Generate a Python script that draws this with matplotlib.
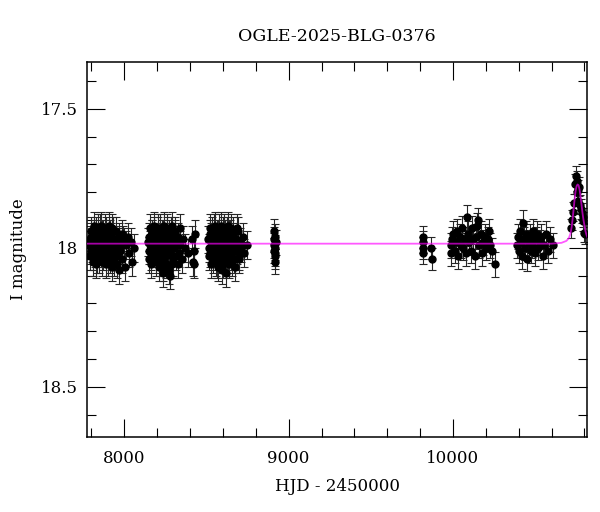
import numpy as np
import matplotlib.pyplot as plt
from matplotlib.ticker import MultipleLocator, FormatStrFormatter

plt.rcParams['font.family'] = ['DejaVu Serif']

s1_t = [7788, 7792, 7795, 7799, 7803, 7806, 7810, 7813, 7817, 7820,
        7824, 7827, 7831, 7835, 7838, 7842, 7845, 7849, 7852, 7856,
        7860, 7863, 7867, 7870, 7874, 7878, 7881, 7885, 7888, 7892,
        7896, 7899, 7903, 7907, 7910, 7914, 7918, 7921, 7925, 7929,
        7933, 7937, 7941, 7945, 7950, 7955, 7960, 7966, 7972, 7978,
        7985, 7992, 7999, 8006, 8013, 8021, 8030, 8040, 8050, 8062,
        7790, 7797, 7801, 7808, 7815, 7822, 7829, 7833, 7840, 7847,
        7854, 7858, 7865, 7872, 7876, 7883, 7890, 7894, 7901, 7905,
        7912, 7916, 7923, 7927, 7931, 7939, 7947, 7958, 7969, 7988]
s1_m = [17.99, 17.97, 18.01, 17.96, 18.00, 17.98, 18.03, 17.95, 17.99, 18.02,
        17.97, 17.94, 18.00, 18.04, 17.98, 17.96, 18.01, 17.99, 17.93, 18.02,
        17.97, 18.00, 17.95, 18.03, 17.98, 17.96, 18.01, 17.99, 17.94, 18.02,
        17.98, 18.05, 17.97, 17.95, 18.00, 17.99, 18.03, 17.96, 17.98, 18.01,
        17.94, 17.99, 18.02, 17.97, 18.00, 18.06, 17.98, 17.96, 18.01, 17.99,
        18.04, 17.97, 17.98, 18.07, 17.99, 17.96, 18.02, 17.98, 18.05, 18.00,
        18.03, 17.94, 17.98, 18.05, 17.92, 18.00, 18.06, 17.96, 17.93, 18.04,
        17.98, 17.92, 18.05, 17.95, 18.02, 17.93, 18.06, 17.97, 18.01, 17.92,
        18.04, 17.95, 18.07, 17.93, 18.00, 18.05, 17.94, 18.03, 18.08, 17.95]

s2_t = [8146, 8150, 8153, 8157, 8160, 8164, 8167, 8171, 8174, 8178,
        8181, 8185, 8188, 8192, 8195, 8199, 8202, 8206, 8209, 8213,
        8216, 8220, 8224, 8227, 8231, 8235, 8238, 8242, 8246, 8250,
        8254, 8258, 8262, 8266, 8270, 8275, 8280, 8285, 8290, 8296,
        8302, 8308, 8314, 8320, 8327, 8334, 8342, 8350, 8360, 8372,
        8385, 8410, 8418, 8424, 8430,
        8148, 8155, 8162, 8169, 8176, 8183, 8190, 8197, 8204, 8211,
        8218, 8222, 8229, 8233, 8240, 8244, 8248, 8256, 8260, 8268,
        8272, 8278, 8283, 8288, 8293, 8299, 8311, 8324, 8338, 8425]
s2_m = [17.98, 18.01, 17.96, 17.99, 18.03, 17.97, 17.95, 18.00, 18.02, 17.98,
        17.94, 18.01, 17.99, 18.04, 17.96, 17.98, 18.02, 17.93, 18.00, 17.97,
        18.05, 17.99, 17.96, 18.01, 17.98, 18.07, 17.95, 18.00, 18.03, 17.97,
        17.99, 17.94, 18.02, 17.98, 18.08, 17.96, 18.01, 17.99, 18.06, 17.97,
        18.00, 17.95, 18.03, 17.98, 17.96, 18.02, 17.99, 18.04, 17.97, 18.00,
        18.02, 17.97, 18.05, 18.01, 17.95,
        18.04, 17.93, 18.06, 17.95, 18.02, 17.92, 18.05, 18.00, 17.94, 18.07,
        17.93, 18.03, 17.95, 18.09, 17.92, 18.04, 17.96, 18.06, 17.93, 18.02,
        17.95, 18.10, 17.94, 18.03, 17.92, 18.05, 17.94, 18.06, 17.93, 18.06]

s3_t = [8512, 8516, 8519, 8523, 8526, 8530, 8533, 8537, 8540, 8544,
        8547, 8551, 8554, 8558, 8561, 8565, 8568, 8572, 8575, 8579,
        8582, 8586, 8589, 8593, 8597, 8601, 8605, 8609, 8613, 8617,
        8621, 8625, 8629, 8634, 8639, 8644, 8649, 8654, 8660, 8666,
        8672, 8678, 8684, 8690, 8697, 8704, 8711, 8720, 8730, 8745,
        8514, 8521, 8528, 8535, 8542, 8549, 8556, 8563, 8570, 8577,
        8584, 8591, 8595, 8603, 8607, 8611, 8615, 8619, 8623, 8627,
        8631, 8637, 8642, 8647, 8652, 8657, 8663, 8675, 8687, 8700]
s3_m = [17.97, 18.00, 17.95, 18.02, 17.98, 17.96, 18.01, 17.99, 18.04, 17.97,
        17.93, 18.00, 17.98, 18.03, 17.96, 18.06, 17.99, 17.95, 18.01, 17.98,
        18.02, 17.96, 17.99, 18.08, 17.97, 17.94, 18.00, 18.03, 17.98, 17.96,
        18.01, 17.99, 18.05, 17.97, 17.95, 18.02, 17.98, 18.00, 17.96, 18.04,
        17.99, 17.97, 18.01, 17.94, 18.03, 17.98, 18.00, 17.96, 18.02, 17.99,
        18.03, 17.93, 18.06, 17.94, 18.01, 17.92, 18.05, 17.95, 18.07, 17.93,
        18.04, 17.92, 17.96, 18.06, 17.93, 18.02, 17.95, 18.09, 17.94, 18.04,
        17.92, 18.06, 17.95, 18.03, 17.93, 18.05, 17.94, 18.07, 17.93, 18.04]

s4_t = [8908, 8910, 8912, 8914, 8915, 8917, 8919, 8921, 8913, 8918]
s4_m = [17.97, 18.01, 17.99, 18.03, 17.96, 18.00, 18.02, 17.98, 17.94, 18.05]

s5_t = [9815, 9817, 9818, 9820, 9868, 9872]
s5_m = [17.96, 17.98, 18.00, 18.02, 18.00, 18.04]

s6_t = [9985, 9990, 9996, 10003, 10010, 10018, 10025, 10032, 10040, 10047,
        10055, 10062, 10070, 10078, 10085, 10092, 10100, 10108, 10116, 10124,
        10132, 10140, 10148, 10152, 10160, 10168, 10176, 10184, 10192, 10200,
        10210, 10220, 10228, 10240, 10256]
s6_m = [17.99, 18.02, 17.97, 17.95, 18.01, 17.98, 17.94, 18.03, 17.96, 17.99,
        17.93, 18.00, 17.97, 18.02, 17.89, 17.95, 17.98, 18.01, 17.93, 17.97,
        18.03, 17.96, 17.92, 17.90, 17.99, 17.95, 18.02, 17.98, 17.96, 18.00,
        17.97, 17.94, 17.99, 18.01, 18.06]

s7_t = [10392, 10398, 10404, 10410, 10416, 10422, 10427, 10433, 10440, 10446,
        10453, 10460, 10467, 10474, 10481, 10488, 10496, 10504, 10512, 10520,
        10528, 10537, 10546, 10556, 10566, 10578, 10592, 10610]
s7_m = [17.99, 17.96, 18.01, 17.94, 17.98, 18.03, 17.91, 17.97, 18.00, 17.95,
        18.04, 17.98, 17.96, 18.01, 17.99, 17.94, 18.02, 17.97, 17.95, 18.00,
        17.98, 17.96, 18.03, 17.99, 17.95, 18.01, 17.97, 17.99]

s8_t = [10718, 10722, 10728, 10735, 10742, 10748, 10752, 10756, 10760, 10762,
        10766, 10772, 10778, 10783, 10788, 10793, 10797, 10805]
s8_m = [17.93, 17.90, 17.87, 17.84, 17.77, 17.74, 17.80, 17.76, 17.79, 17.83,
        17.78, 17.845, 17.86, 17.875, 17.905, 17.89, 17.945, 17.95]

# typical error bar of each season
season_err = [0.05, 0.05, 0.05, 0.045, 0.04, 0.045, 0.045, 0.035]

# microlensing model curve
model_t = [7700, 10600, 10660, 10690, 10705, 10715, 10722, 10728, 10734, 10740,
           10746, 10752, 10758, 10764, 10770, 10776, 10782, 10788, 10794, 10800,
           10806, 10812, 10820]
model_m = [17.985, 17.985, 17.982, 17.975, 17.965, 17.948, 17.925, 17.895, 17.86, 17.825,
           17.795, 17.778, 17.772, 17.775, 17.79, 17.815, 17.845, 17.875, 17.90, 17.92,
           17.94, 17.953, 17.965]

seasons = [(s1_t, s1_m), (s2_t, s2_m), (s3_t, s3_m), (s4_t, s4_m),
           (s5_t, s5_m), (s6_t, s6_m), (s7_t, s7_m), (s8_t, s8_m)]

fig = plt.figure(figsize=(6, 5.12), dpi=100)
ax = fig.add_axes([0.1455, 0.147, 0.8333, 0.7325])

for (t, m), err in zip(seasons, season_err):
    ax.errorbar(t, m, yerr=err, fmt='o', color='black', ms=5,
                ecolor='0.15', elinewidth=0.8, capsize=2.6, capthick=0.8, zorder=2)

ax.plot(model_t, model_m, color='magenta', lw=1.3, alpha=0.65, zorder=3)

ax.set_xlim(7775, 10817)
ax.set_ylim(18.68, 17.33)

ax.xaxis.set_major_locator(MultipleLocator(1000))
ax.xaxis.set_minor_locator(MultipleLocator(200))
ax.yaxis.set_major_locator(MultipleLocator(0.5))
ax.yaxis.set_minor_locator(MultipleLocator(0.1))
ax.yaxis.set_major_formatter(FormatStrFormatter('%g'))

ax.tick_params(which='both', direction='in', top=True, right=True, width=0.8)
ax.tick_params(which='major', length=13, labelsize=12)
ax.tick_params(axis='x', which='major', pad=9.5)
ax.tick_params(axis='y', which='major', pad=6.5)
ax.tick_params(which='minor', length=6.5)
for sp in ax.spines.values():
    sp.set_linewidth(1.1)

ax.set_title('OGLE-2025-BLG-0376', fontsize=12.5, pad=15)
ax.set_xlabel('HJD - 2450000', fontsize=12, labelpad=8)
ax.set_ylabel('I magnitude', fontsize=12, labelpad=10)

fig.savefig('out.png', dpi=100)
